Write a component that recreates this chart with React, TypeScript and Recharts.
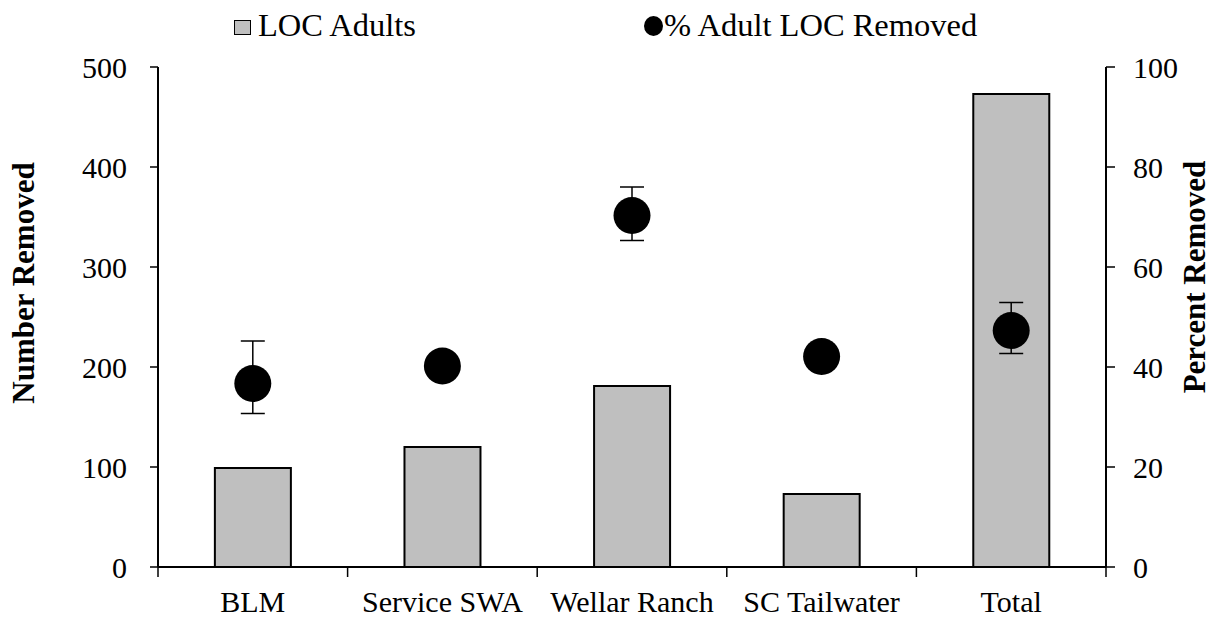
import React from 'react';
import { ComposedChart, Bar, Line, XAxis, YAxis, Legend, ErrorBar } from 'recharts';

// values
const categories = ['BLM', 'Service SWA', 'Wellar Ranch', 'SC Tailwater', 'Total'];
const locAdults = [99, 120, 181, 73, 473];
const pctRemoved = [36.7, 40.2, 70.3, 42.1, 47.3];
const pctErrLow = [6, 2, 5, 2, 4.6];
const pctErrHigh = [8.5, 2, 5.7, 2, 5.6];
const leftTicks = [0, 100, 200, 300, 400, 500];
const rightTicks = [0, 20, 40, 60, 80, 100];

const chartData = categories.map((name, i) => ({
  name,
  adults: locAdults[i],
  pct: pctRemoved[i],
  pctErr: [pctErrLow[i], pctErrHigh[i]],
}));

const FONT = '"Liberation Serif", "Times New Roman", serif';
const FONT_SIZE = 30;
const TITLE_SIZE = 31;
const PLOT_WIDTH = 948;
const HALF_BAND = PLOT_WIDTH / categories.length / 2;

const CategoryTick = (props: any) => {
  const { x, y, payload, index } = props;
  return (
    <g>
      <line x1={x - HALF_BAND} x2={x - HALF_BAND} y1={y} y2={y + 10} stroke="#000" strokeWidth={1.5} />
      {index === categories.length - 1 && (
        <line x1={x + HALF_BAND} x2={x + HALF_BAND} y1={y} y2={y + 10} stroke="#000" strokeWidth={1.5} />
      )}
      <text x={x} y={y + 45} textAnchor="middle" fontSize={FONT_SIZE} fill="#000">
        {payload.value}
      </text>
    </g>
  );
};

const LeftLabel = (props: any) => {
  const { x, y, height } = props.viewBox;
  const cx = x - 75;
  const cy = y + height / 2 - 34;
  return (
    <text x={cx} y={cy} transform={`rotate(-90, ${cx}, ${cy})`} textAnchor="middle"
      dominantBaseline="central" fontSize={TITLE_SIZE} fontWeight="bold" fill="#000">
      Number Removed
    </text>
  );
};

const RightLabel = (props: any) => {
  const { x, y, height } = props.viewBox;
  const cx = x + 88;
  const cy = y + height / 2 - 40;
  return (
    <text x={cx} y={cy} transform={`rotate(-90, ${cx}, ${cy})`} textAnchor="middle"
      dominantBaseline="central" fontSize={TITLE_SIZE} fontWeight="bold" fill="#000">
      Percent Removed
    </text>
  );
};

const LegendContent = () => (
  <div style={{ position: 'relative', width: 1215, height: 50, fontFamily: FONT, fontSize: 32.5, color: '#000' }}>
    <span style={{ position: 'absolute', left: 234, top: 20, width: 15, height: 13, background: '#BFBFBF', border: '1.5px solid #000' }} />
    <span style={{ position: 'absolute', left: 258, top: 10, lineHeight: '30px', whiteSpace: 'nowrap' }}>LOC Adults</span>
    <span style={{ position: 'absolute', left: 644, top: 16, width: 19, height: 20, borderRadius: '50%', background: '#000' }} />
    <span style={{ position: 'absolute', left: 664, top: 10, lineHeight: '30px', whiteSpace: 'nowrap' }}>% Adult LOC Removed</span>
  </div>
);

const App = () => {
  return (
    <div style={{ width: 1215, height: 617, fontFamily: FONT, background: '#fff' }}>
      <style>{'body { margin: 0; }'}</style>
      <ComposedChart
        width={1215}
        height={617}
        data={chartData}
        margin={{ top: 67, right: 49, bottom: 10, left: 98 }}
        barCategoryGap="30%"
      >
        <XAxis
          dataKey="name"
          height={40}
          tickSize={0}
          tickMargin={0}
          tickLine={false}
          axisLine={{ stroke: '#000', strokeWidth: 2 }}
          tick={<CategoryTick />}
          interval={0}
        />
        <YAxis
          yAxisId="left"
          width={60}
          domain={[0, 500]}
          ticks={leftTicks}
          tickSize={8}
          tickMargin={23}
          tick={{ fill: '#000', fontSize: FONT_SIZE }}
          tickLine={{ stroke: '#000', strokeWidth: 1.5 }}
          axisLine={{ stroke: '#000', strokeWidth: 2 }}
          label={<LeftLabel />}
        />
        <YAxis
          yAxisId="right"
          orientation="right"
          width={60}
          domain={[0, 100]}
          ticks={rightTicks}
          tickSize={9}
          tickMargin={18}
          tick={{ fill: '#000', fontSize: FONT_SIZE, textAnchor: 'start' }}
          tickLine={{ stroke: '#000', strokeWidth: 1.5 }}
          axisLine={{ stroke: '#000', strokeWidth: 2 }}
          label={<RightLabel />}
        />
        <Legend
          layout="horizontal"
          verticalAlign="middle"
          align="center"
          wrapperStyle={{ top: 0, left: 0, width: 1215 }}
          content={<LegendContent />}
        />
        <Bar
          yAxisId="left"
          dataKey="adults"
          name="LOC Adults"
          fill="#BFBFBF"
          stroke="#000"
          strokeWidth={2}
          isAnimationActive={false}
        />
        <Line
          yAxisId="right"
          dataKey="pct"
          name="% Adult LOC Removed"
          stroke="none"
          dot={{ r: 18.5, fill: '#000', stroke: 'none' }}
          activeDot={false}
          isAnimationActive={false}
        >
          <ErrorBar dataKey="pctErr" direction="y" width={12} stroke="#000" strokeWidth={1.5} />
        </Line>
      </ComposedChart>
    </div>
  );
};

export default App;
